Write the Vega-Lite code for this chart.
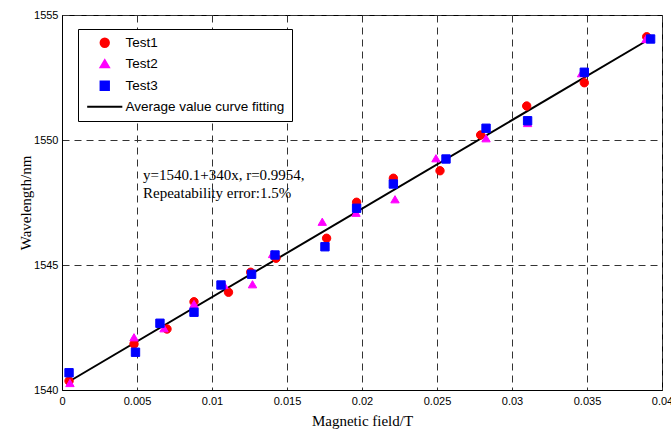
{
  "$schema": "https://vega.github.io/schema/vega-lite/v6.json",
  "width": 600,
  "height": 375,
  "autosize": {"type": "none"},
  "padding": {"left": 62, "top": 15, "right": 9, "bottom": 42},
  "background": "white",
  "config": {
    "view": {"stroke": "black", "strokeWidth": 1},
    "axis": {
      "domainColor": "black",
      "ticks": false,
      "grid": true,
      "gridDash": [7, 5],
      "gridColor": "#333333",
      "gridWidth": 1,
      "labelFont": "Liberation Sans",
      "labelFontSize": 11,
      "labelColor": "black",
      "titleFont": "Liberation Serif",
      "titleFontWeight": "normal",
      "titleFontSize": 15,
      "titleColor": "black"
    }
  },
  "datasets": {
    "points": [
      {"series": "Test1", "x": 0.00047, "y": 1540.36},
      {"series": "Test1", "x": 0.0048, "y": 1541.84},
      {"series": "Test1", "x": 0.0070, "y": 1542.44},
      {"series": "Test1", "x": 0.0088, "y": 1543.53},
      {"series": "Test1", "x": 0.0111, "y": 1543.91},
      {"series": "Test1", "x": 0.01258, "y": 1544.71},
      {"series": "Test1", "x": 0.01427, "y": 1545.27},
      {"series": "Test1", "x": 0.01764, "y": 1546.07},
      {"series": "Test1", "x": 0.01964, "y": 1547.51},
      {"series": "Test1", "x": 0.02209, "y": 1548.47},
      {"series": "Test1", "x": 0.0252, "y": 1548.77},
      {"series": "Test1", "x": 0.02791, "y": 1550.2},
      {"series": "Test1", "x": 0.03098, "y": 1551.36},
      {"series": "Test1", "x": 0.03482, "y": 1552.29},
      {"series": "Test1", "x": 0.03898, "y": 1554.13},
      {"series": "Test2", "x": 0.00053, "y": 1540.28},
      {"series": "Test2", "x": 0.0048, "y": 1542.11},
      {"series": "Test2", "x": 0.0068, "y": 1542.47},
      {"series": "Test2", "x": 0.0088, "y": 1543.44},
      {"series": "Test2", "x": 0.0108, "y": 1544.2},
      {"series": "Test2", "x": 0.0127, "y": 1544.23},
      {"series": "Test2", "x": 0.01404, "y": 1545.44},
      {"series": "Test2", "x": 0.01735, "y": 1546.73},
      {"series": "Test2", "x": 0.0196, "y": 1547.09},
      {"series": "Test2", "x": 0.0222, "y": 1547.63},
      {"series": "Test2", "x": 0.02493, "y": 1549.27},
      {"series": "Test2", "x": 0.02827, "y": 1550.07},
      {"series": "Test2", "x": 0.03104, "y": 1550.68},
      {"series": "Test2", "x": 0.03464, "y": 1552.67},
      {"series": "Test2", "x": 0.03893, "y": 1554.04},
      {"series": "Test3", "x": 0.00047, "y": 1540.69},
      {"series": "Test3", "x": 0.0049, "y": 1541.51},
      {"series": "Test3", "x": 0.00653, "y": 1542.67},
      {"series": "Test3", "x": 0.0088, "y": 1543.11},
      {"series": "Test3", "x": 0.0106, "y": 1544.2},
      {"series": "Test3", "x": 0.01264, "y": 1544.63},
      {"series": "Test3", "x": 0.0142, "y": 1545.4},
      {"series": "Test3", "x": 0.01753, "y": 1545.73},
      {"series": "Test3", "x": 0.01964, "y": 1547.27},
      {"series": "Test3", "x": 0.02209, "y": 1548.24},
      {"series": "Test3", "x": 0.0256, "y": 1549.24},
      {"series": "Test3", "x": 0.02827, "y": 1550.47},
      {"series": "Test3", "x": 0.03104, "y": 1550.77},
      {"series": "Test3", "x": 0.03482, "y": 1552.71},
      {"series": "Test3", "x": 0.03924, "y": 1554.04}
    ],
    "fit": [
      {"x": 0.0005, "y": 1540.35},
      {"x": 0.0392, "y": 1554.05}
    ],
    "notes": [
      {"x": 0.0054, "y": 1548.6, "text": "y=1540.1+340x, r=0.9954,"},
      {"x": 0.0054, "y": 1547.88, "text": "Repeatability error:1.5%"}
    ]
  },
  "layer": [
    {
      "data": {"name": "fit"},
      "mark": {"type": "line", "color": "black", "strokeWidth": 2},
      "encoding": {
        "x": {"field": "x", "type": "quantitative", "scale": {"domain": [0, 0.04], "nice": false}, "axis": {"values": [0, 0.005, 0.01, 0.015, 0.02, 0.025, 0.03, 0.035, 0.04], "format": ".3~f", "title": "Magnetic field/T", "labelPadding": 5, "titlePadding": 7, "labelFlush": false}},
        "y": {"field": "y", "type": "quantitative", "scale": {"domain": [1540, 1555], "nice": false, "zero": false}, "axis": {"values": [1540, 1545, 1550, 1555], "format": "d", "title": "Wavelength/nm", "labelPadding": 4, "titlePadding": 0, "labelFlush": false}}
      }
    },
    {
      "data": {"name": "points"},
      "mark": {"type": "point", "filled": true, "opacity": 1, "strokeWidth": 1, "size": 70},
      "encoding": {
        "x": {"field": "x", "type": "quantitative"},
        "y": {"field": "y", "type": "quantitative"},
        "color": {
          "field": "series", "type": "nominal",
          "scale": {"domain": ["Test1", "Test2", "Test3", "Average value curve fitting"], "range": ["#ff0000", "#ff00ff", "#0000ff", "#000000"]},
          "legend": {
            "title": null,
            "orient": "none",
            "legendX": 16,
            "legendY": 14,
            "fillColor": "white",
            "strokeColor": "black",
            "padding": 7,
            "labelFont": "Liberation Sans",
            "labelFontSize": 13.5,
            "labelColor": "black",
            "symbolSize": 70,
            "symbolOffset": 13,
            "labelOffset": 14,
            "rowPadding": 5,
            "labelLimit": 300,
            "symbolStrokeWidth": 2
          }
        },
        "stroke": {
          "field": "series", "type": "nominal",
          "scale": {"domain": ["Test1", "Test2", "Test3", "Average value curve fitting"], "range": ["#ff0000", "#ff00ff", "#0000ff", "#000000"]},
          "legend": {"title": null}
        },
        "shape": {
          "field": "series", "type": "nominal",
          "scale": {"domain": ["Test1", "Test2", "Test3", "Average value curve fitting"], "range": ["circle", "triangle-up", "square", "M-4.2,0H4.2"]},
          "legend": {"title": null}
        }
      }
    },
    {
      "data": {"name": "notes"},
      "mark": {"type": "text", "align": "left", "baseline": "middle", "font": "Liberation Serif", "fontSize": 15, "color": "black"},
      "encoding": {
        "x": {"field": "x", "type": "quantitative"},
        "y": {"field": "y", "type": "quantitative"},
        "text": {"field": "text"}
      }
    }
  ]
}
